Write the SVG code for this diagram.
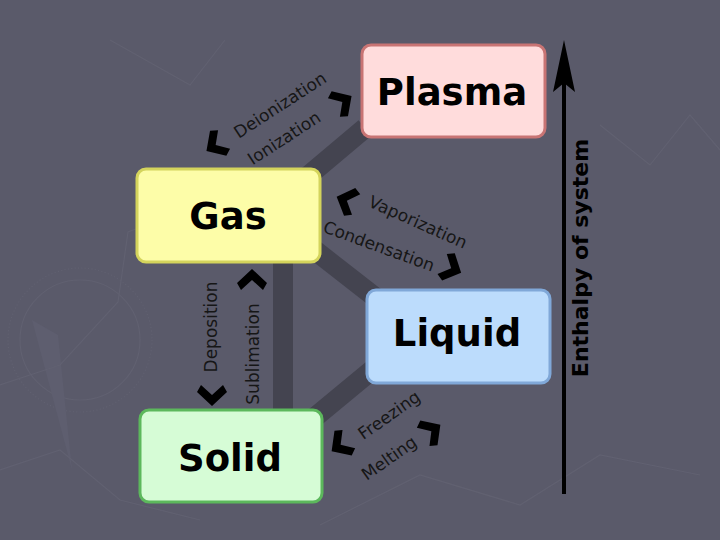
<svg xmlns="http://www.w3.org/2000/svg" width="720" height="540" viewBox="0 0 720 540">
<style>
.bg{fill:#5a5a6a}
.deco{fill:none;stroke:#646474;stroke-width:1.2}
.bar{stroke:#444450;stroke-width:20;stroke-linecap:butt}
.box{stroke-width:3}
.title{font-family:"DejaVu Sans",sans-serif;font-weight:bold;font-size:37px;fill:#000;text-anchor:middle;dominant-baseline:central}
.lbl{font-family:"DejaVu Sans",sans-serif;font-size:17px;fill:#161616;text-anchor:middle;dominant-baseline:central}
.axis{font-family:"DejaVu Sans",sans-serif;font-weight:bold;font-size:22px;fill:#000;text-anchor:middle;dominant-baseline:central}
</style>
<defs>
<polygon id="chev" points="9,0 -5,-15 -12,-11 -2,0 -12,11 -5,15" fill="#000"/>
</defs>
<rect class="bg" x="0" y="0" width="720" height="540"/>
<g id="background-decor" opacity="0.7">
<circle class="deco" cx="80" cy="340" r="72" stroke-width="5" stroke-dasharray="1.2 2.2"/>
<circle class="deco" cx="80" cy="340" r="60"/>
<path d="M32,320 L58,335 L72,470 Z" fill="#606072"/>
<path class="deco" d="M0,385 L60,365 L118,302 L128,232 L200,205"/>
<path class="deco" d="M110,40 L190,85 L225,40"/>
<path class="deco" d="M320,525 L420,475 L520,505 L600,455 L700,475"/>
<path class="deco" d="M600,125 L650,165 L690,115 L720,150"/>
<path class="deco" d="M0,470 L60,450 L120,500 L200,520"/>
</g>
<g id="connectors">
<line class="bar" x1="365" y1="128" x2="308" y2="176"/>
<line class="bar" x1="312" y1="248" x2="376" y2="298"/>
<line class="bar" x1="283" y1="262" x2="283" y2="410"/>
<line class="bar" x1="372" y1="370" x2="314" y2="418"/>
<line x1="564" y1="494" x2="564" y2="80" stroke="#000" stroke-width="4"/>
<path d="M564,40 L575,92 L564,83 L553,92 Z" fill="#000"/>
</g>
<g id="chevrons">
<use href="#chev" transform="translate(214,146) rotate(147)"/>
<use href="#chev" transform="translate(344,101) rotate(-33)"/>
<use href="#chev" transform="translate(345,200) rotate(-158)"/>
<use href="#chev" transform="translate(453,269) rotate(25)"/>
<use href="#chev" transform="translate(252,278) rotate(-90)"/>
<use href="#chev" transform="translate(212,397) rotate(90)"/>
<use href="#chev" transform="translate(339,446) rotate(145)"/>
<use href="#chev" transform="translate(433,430) rotate(-35)"/>
</g>
<g id="labels">
<text class="lbl" transform="translate(280,105) rotate(-33)">Deionization</text>
<text class="lbl" transform="translate(284,138) rotate(-33)">Ionization</text>
<text class="lbl" transform="translate(418,222) rotate(24)">Vaporization</text>
<text class="lbl" transform="translate(379,246) rotate(20)">Condensation</text>
<text class="lbl" transform="translate(211,327) rotate(-90)">Deposition</text>
<text class="lbl" transform="translate(253,354) rotate(-90)">Sublimation</text>
<text class="lbl" transform="translate(389,415) rotate(-35)">Freezing</text>
<text class="lbl" transform="translate(389,458) rotate(-35)">Melting</text>
<text class="axis" transform="translate(580,258) rotate(-90)">Enthalpy of system</text>
</g>
<g id="plasma">
<rect class="box" x="362" y="45" width="183" height="92" rx="9" fill="#ffdcdc" stroke="#c87474"/>
<text class="title" x="452" y="92">Plasma</text>
</g>
<g id="gas">
<rect class="box" x="137" y="169" width="183" height="93" rx="9" fill="#fdfda8" stroke="#d4d45c"/>
<text class="title" x="228" y="216">Gas</text>
</g>
<g id="liquid">
<rect class="box" x="367" y="290" width="183" height="93" rx="9" fill="#bcdcfc" stroke="#80a8d8"/>
<text class="title" x="457" y="333">Liquid</text>
</g>
<g id="solid">
<rect class="box" x="140" y="410" width="182" height="92" rx="9" fill="#d6fcd6" stroke="#5cb85c"/>
<text class="title" x="230" y="458">Solid</text>
</g>
</svg>
